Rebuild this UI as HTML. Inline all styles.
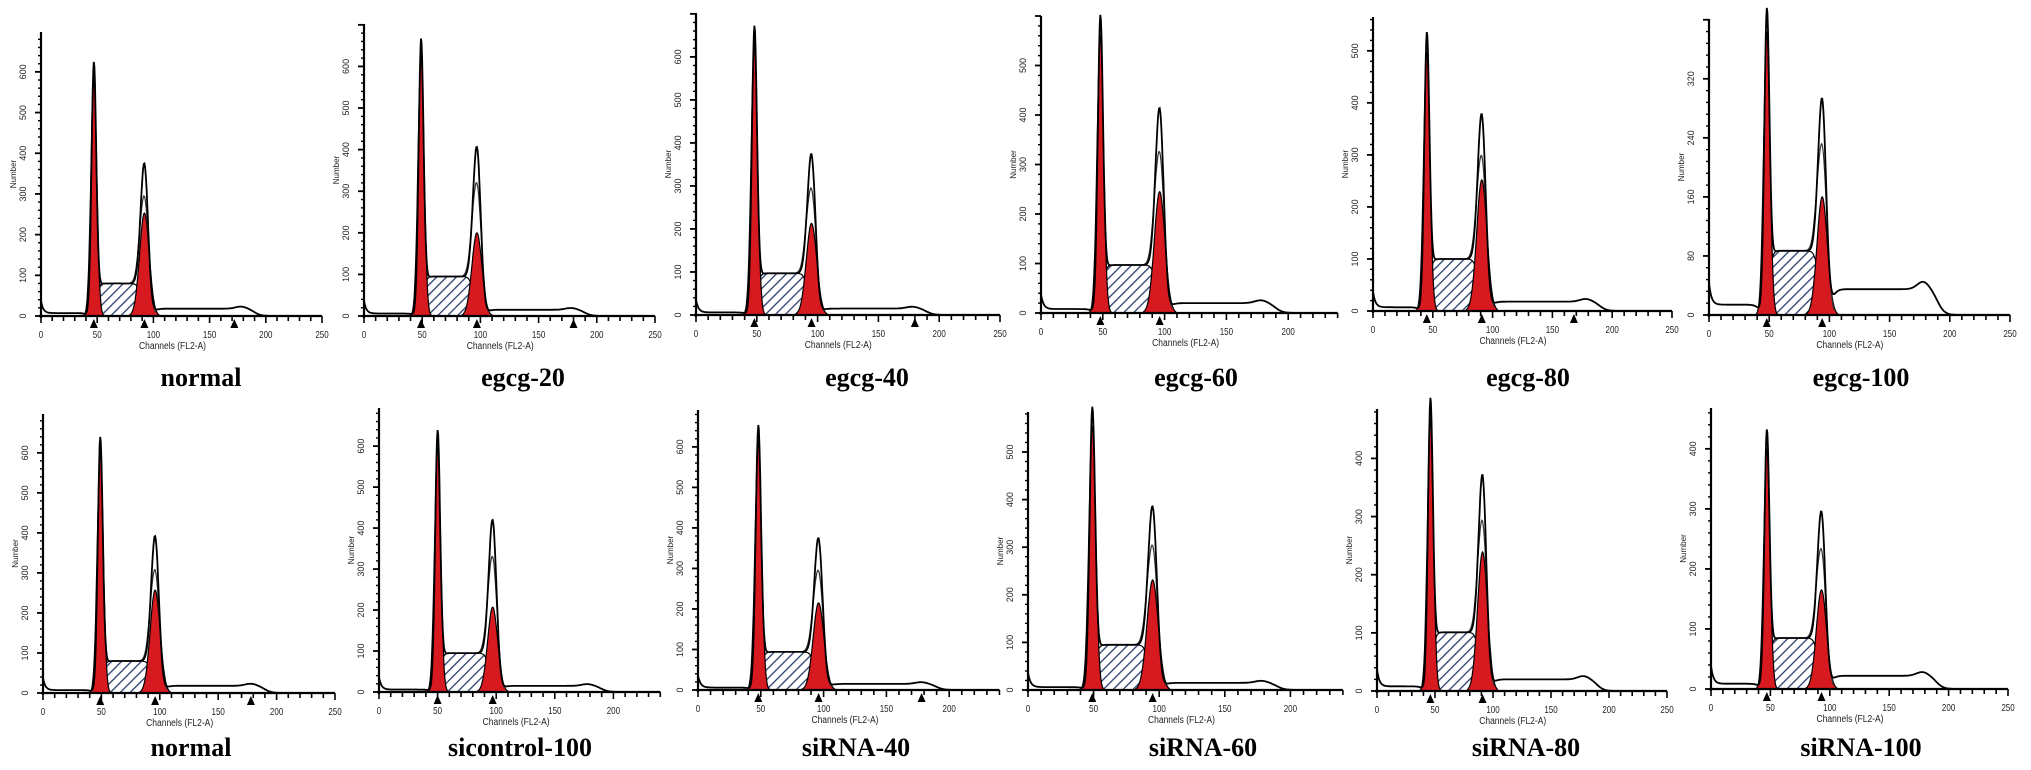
<!DOCTYPE html>
<html><head><meta charset="utf-8"><style>
html,body{margin:0;padding:0;background:#fff;}
svg{display:block;}
text{font-family:"Liberation Sans",sans-serif;}
.title{font-family:"Liberation Serif",serif;font-weight:bold;font-size:26px;}
</style></head><body>
<svg id="fig" width="2031" height="770" viewBox="0 0 2031 770" xmlns="http://www.w3.org/2000/svg">
<defs>
<pattern id="hatch" patternUnits="userSpaceOnUse" width="7" height="7" patternTransform="rotate(45)">
<rect width="7" height="7" fill="#fff"/>
<line x1="0" y1="0" x2="0" y2="7" stroke="#2a3d6e" stroke-width="2.6"/>
</pattern>
</defs>
</svg>
<script>
const labels=["normal","egcg-20","egcg-40","egcg-60","egcg-80","egcg-100","normal","sicontrol-100","siRNA-40","siRNA-60","siRNA-80","siRNA-100"];
const g1Height=[610,650,655,585,518,400,625,622,637,578,486,417];
const g2Height=[365,395,362,402,366,282,382,408,363,374,359,285];
const g2RedHeight=[253,200,213,245,252,160,257,207,215,231,239,165];
const sLevel=[80,95,97,97,100,87,80,95,94,95,101,85];
const g1Channel=[47,49,48,48,45,48,49,50,48,49,46,47];
const g2Channel=[92,97,95,96,91,94,96,97,96,95,91,93];
const tailLevel=[18,15,15,20,18,35,18,15,15,15,20,22];
const yTickStep=[100,100,100,100,100,80,100,100,100,100,100,100];
const yMax=[698,702,702,600,565,401,697,693,691,584,485,468];
const xMax=[250,250,250,240,250,250,250,240,240,240,250,250];
const thirdMarker=[172,180,180,null,168,null,178,null,178,null,null,null];
const xTickLabels=[0,50,100,150,200,250];

// layout (pixel geometry, not data)
const layout=[
{x0:41,x250:322,top:32,base:316,tx:201,ty:386},
{x0:364,x250:655,top:24,base:316,tx:523,ty:386},
{x0:696,x250:1000,top:13,base:315,tx:867,ty:386},
{x0:1041,x250:1350,top:16,base:313,tx:1196,ty:386},
{x0:1373,x250:1672,top:17,base:311,tx:1528,ty:386},
{x0:1709,x250:2010,top:19,base:315,tx:1861,ty:386},
{x0:43,x250:335,top:414,base:693,tx:191,ty:756},
{x0:379,x250:672,top:408,base:692,tx:520,ty:756},
{x0:698,x250:1012,top:410,base:690,tx:856,ty:756},
{x0:1028,x250:1356,top:412,base:690,tx:1203,ty:756},
{x0:1377,x250:1667,top:409,base:691,tx:1526,ty:756},
{x0:1711,x250:2008,top:408,base:689,tx:1861,ty:756}
];
const NS="http://www.w3.org/2000/svg";
const svg=document.getElementById('fig');
function mk(tag,attrs,parent){const e=document.createElementNS(NS,tag);for(const k in attrs)e.setAttribute(k,attrs[k]);(parent||svg).appendChild(e);return e;}
const sig=x=>1/(1+Math.exp(-x));
const gauss=(c,m,s)=>Math.exp(-(c-m)*(c-m)/(2*s*s));

for(let i=0;i<labels.length;i++){
  const L=layout[i];
  const g=mk('g',{});
  
  
  const sx=(L.x250-L.x0)/250;
  const X=c=>L.x0+c*sx;
  const yScale=(L.base-L.top)/yMax[i];
  const Y=v=>L.base-v*yScale;
  const g1=g1Channel[i],g2=g2Channel[i];
  const S=c=>sLevel[i]*sig((c-(g1+2))/1.3)*sig(((g2-3)-c)/1.5);
  const tail=c=>tailLevel[i]*sig((c-g2-8)/2)*sig((190-c)/3)+tailLevel[i]*0.3*gauss(c,178,5)+tailLevel[i]*0.4*sig((g1-6-c)/2)+30*Math.exp(-c/2);
  const env=c=>g1Height[i]*gauss(c,g1,2.1)+S(c)+g2Height[i]*gauss(c,g2,3.3)+tail(c);
  const pathOf=(fn,a,b,close)=>{let d='';for(let c=a;c<=b;c+=0.5){d+=(d?'L':'M')+X(c).toFixed(1)+','+Y(Math.max(0,fn(c))).toFixed(1);} if(close)d+='L'+X(b).toFixed(1)+','+L.base+'L'+X(a).toFixed(1)+','+L.base+'Z';return d;};
  const sp=mk('path',{d:pathOf(S,g1-2,g2+4,true),fill:'url(#hatch)',stroke:'#000','stroke-width':1.2},g);
  
  
  const r1=mk('path',{d:pathOf(c=>g1Height[i]*0.96*gauss(c,g1,2.6),g1-9,g1+9,true),fill:'#d71920',stroke:'#000','stroke-width':1.2},g);
  
  
  const r2=mk('path',{d:pathOf(c=>g2RedHeight[i]*gauss(c,g2,4.3),g2-13,g2+13,true),fill:'#d71920',stroke:'#000','stroke-width':1.2},g);
  
  
  const ml=mk('path',{d:pathOf(c=>S(c)+g2Height[i]*0.78*gauss(c,g2,3.8),g2-15,g2+10,false),fill:'none',stroke:'#333','stroke-width':1.2},g);
  
  
  const el=mk('path',{d:pathOf(env,0,xMax[i],false),fill:'none',stroke:'#000','stroke-width':1.8},g);
  
  
  mk('line',{x1:L.x0,y1:L.top,x2:L.x0,y2:L.base+2,stroke:'#000','stroke-width':2.2},g);
  mk('line',{x1:L.x0-2,y1:L.base,x2:X(xMax[i]),y2:L.base,stroke:'#000','stroke-width':2.2},g);
  for(let v=0;v<=yMax[i];v+=yTickStep[i]/5){
    const major=(Math.round(v)%yTickStep[i]===0);
    mk('line',{x1:L.x0-(major?6:3),y1:Y(v),x2:L.x0,y2:Y(v),stroke:'#000','stroke-width':major?1.8:1.4},g);
  }
  for(let v=0;v<=yMax[i]-40;v+=yTickStep[i]){
    const t=mk('text',{x:0,y:0,'font-size':9,'text-anchor':'middle',transform:`translate(${L.x0-15},${Y(v)}) rotate(-90)`,fill:'#222'},g);
    t.textContent=String(v);
    
    
  }
  const yl=mk('text',{'font-size':8,'text-anchor':'middle',transform:`translate(${L.x0-25},${Y(yMax[i]*0.5)}) rotate(-90)`,fill:'#222'},g);
  yl.textContent='Number';
  
  
  for(let c=0;c<=xMax[i];c+=10){
    mk('line',{x1:X(c),y1:L.base,x2:X(c),y2:L.base+(c%50===0?7:5),stroke:'#000','stroke-width':1.6},g);
  }
  xTickLabels.forEach(c=>{ if(c>xMax[i])return;
    const t=mk('text',{x:0,y:0,'font-size':10,'text-anchor':'middle',transform:`translate(${X(c)},${L.base+22}) scale(0.8,1)`,fill:'#222'},g);
    t.textContent=String(c);
    
    
  });
  const xl=mk('text',{x:0,y:0,'font-size':10,'text-anchor':'middle',transform:`translate(${X(117)},${L.base+33}) scale(0.85,1)`,fill:'#222'},g);
  xl.textContent='Channels (FL2-A)';
  
  
  [g1,g2,thirdMarker[i]].forEach(c=>{ if(c==null)return;
    const m=mk('path',{d:`M${X(c)-4},${L.base+12}L${X(c)+4},${L.base+12}L${X(c)},${L.base+3}Z`,fill:'#000'},g);
    
    
  });
  const tt=mk('text',{x:L.tx,y:L.ty,'text-anchor':'middle',class:'title',fill:'#000'},g);
  tt.textContent=labels[i];
  
  
}
</script>
</body></html>
